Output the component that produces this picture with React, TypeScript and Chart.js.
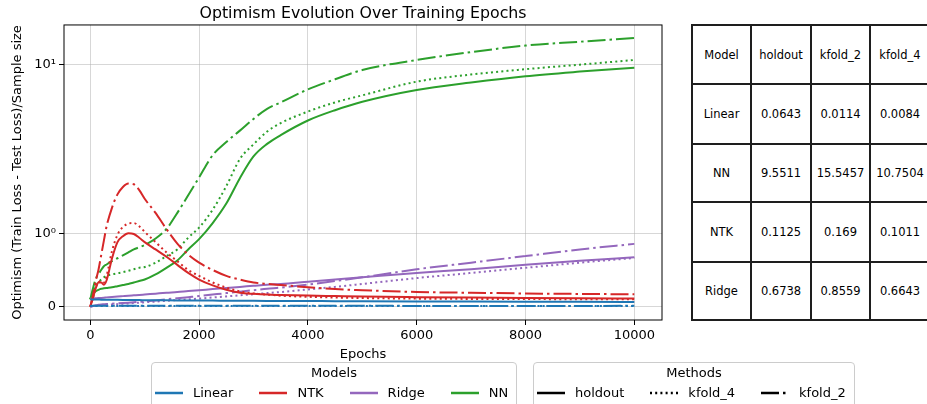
import React, { useEffect, useRef } from 'react';
import { Chart, registerables, LinearScale } from 'chart.js';

// ---------- DATA ----------
const epochs = [0, 50, 100, 150, 200, 250, 300, 400, 500, 600, 700, 800, 900, 1000, 1200, 1400, 1600, 1800, 2000, 2250, 2500, 2750, 3000, 3250, 3500, 4000, 4500, 5000, 6000, 7000, 8000, 9000, 10000];

const linearHoldout = [0.1, 0.099, 0.098, 0.097, 0.096, 0.096, 0.095, 0.094, 0.093, 0.092, 0.091, 0.09, 0.09, 0.089, 0.088, 0.087, 0.086, 0.085, 0.084, 0.083, 0.082, 0.081, 0.08, 0.079, 0.078, 0.077, 0.075, 0.074, 0.072, 0.07, 0.068, 0.066, 0.0643];
const linearKfold2 = [0.014, 0.014, 0.013, 0.013, 0.013, 0.013, 0.013, 0.013, 0.013, 0.012, 0.012, 0.012, 0.012, 0.012, 0.012, 0.012, 0.012, 0.012, 0.012, 0.012, 0.012, 0.012, 0.012, 0.012, 0.012, 0.012, 0.012, 0.012, 0.011, 0.011, 0.011, 0.011, 0.0114];
const linearKfold4 = [0.01, 0.01, 0.01, 0.01, 0.01, 0.01, 0.01, 0.01, 0.009, 0.009, 0.009, 0.009, 0.009, 0.009, 0.009, 0.009, 0.009, 0.009, 0.009, 0.009, 0.009, 0.009, 0.009, 0.009, 0.009, 0.009, 0.009, 0.009, 0.009, 0.0085, 0.0085, 0.0085, 0.0084];

const ntkHoldout = [0, 0.12, 0.25, 0.33, 0.33, 0.3, 0.36, 0.66, 0.88, 0.96, 1.0, 0.99, 0.94, 0.88, 0.78, 0.68, 0.57, 0.46, 0.37, 0.29, 0.23, 0.19, 0.175, 0.165, 0.16, 0.152, 0.145, 0.138, 0.13, 0.124, 0.119, 0.115, 0.1125];
const ntkKfold2 = [0, 0.16, 0.35, 0.5, 0.7, 0.9, 1.1, 1.42, 1.7, 1.88, 1.97, 1.95, 1.8, 1.6, 1.32, 1.06, 0.86, 0.71, 0.6, 0.5, 0.42, 0.37, 0.33, 0.31, 0.295, 0.265, 0.24, 0.225, 0.2, 0.19, 0.18, 0.174, 0.169];
const ntkKfold4 = [0, 0.12, 0.26, 0.33, 0.35, 0.33, 0.42, 0.76, 0.98, 1.09, 1.14, 1.15, 1.1, 1.02, 0.88, 0.74, 0.62, 0.5, 0.42, 0.33, 0.26, 0.21, 0.18, 0.165, 0.15, 0.135, 0.125, 0.118, 0.11, 0.106, 0.104, 0.102, 0.1011];

const ridgeHoldout = [0.11, 0.112, 0.115, 0.118, 0.12, 0.123, 0.127, 0.133, 0.138, 0.144, 0.15, 0.155, 0.16, 0.166, 0.178, 0.19, 0.2, 0.213, 0.225, 0.24, 0.255, 0.27, 0.285, 0.3, 0.31, 0.34, 0.37, 0.4, 0.46, 0.51, 0.57, 0.625, 0.6738];
const ridgeKfold2 = [0, 0.01, 0.02, 0.025, 0.03, 0.033, 0.036, 0.04, 0.045, 0.05, 0.055, 0.06, 0.065, 0.07, 0.085, 0.1, 0.115, 0.13, 0.145, 0.165, 0.185, 0.205, 0.225, 0.245, 0.26, 0.3, 0.35, 0.4, 0.51, 0.6, 0.69, 0.78, 0.8559];
const ridgeKfold4 = [0, 0.005, 0.01, 0.015, 0.02, 0.022, 0.025, 0.03, 0.035, 0.04, 0.045, 0.05, 0.055, 0.06, 0.07, 0.08, 0.09, 0.1, 0.11, 0.125, 0.14, 0.155, 0.17, 0.185, 0.2, 0.235, 0.27, 0.31, 0.39, 0.46, 0.53, 0.6, 0.6643];

const nnHoldout = [0.1, 0.17, 0.21, 0.23, 0.245, 0.25, 0.255, 0.265, 0.28, 0.295, 0.31, 0.33, 0.35, 0.37, 0.44, 0.53, 0.63, 0.78, 0.92, 1.15, 1.5, 2.12, 2.85, 3.38, 3.81, 4.65, 5.35, 6.0, 7.05, 7.8, 8.5, 9.05, 9.55];
const nnKfold2 = [0.1, 0.25, 0.38, 0.44, 0.5, 0.55, 0.575, 0.62, 0.66, 0.7, 0.74, 0.78, 0.81, 0.84, 0.93, 1.06, 1.32, 1.68, 2.14, 2.9, 3.47, 4.05, 4.75, 5.45, 5.95, 7.1, 8.15, 9.25, 10.6, 11.8, 12.9, 13.6, 14.3];
const nnKfold4 = [0.1, 0.2, 0.28, 0.33, 0.37, 0.4, 0.42, 0.44, 0.455, 0.47, 0.49, 0.51, 0.53, 0.54, 0.6, 0.69, 0.78, 0.94, 1.08, 1.38, 1.9, 2.75, 3.36, 4.0, 4.49, 5.25, 5.95, 6.55, 7.89, 8.7, 9.35, 9.95, 10.6];

const xTickValues = [0, 2000, 4000, 6000, 8000, 10000];
const yTickValues = [0, 1, 10];
const yTickLabels = ['0', '10⁰', '10¹'];

const modelNames = ['Linear', 'NTK', 'Ridge', 'NN'];
const methodNames = ['holdout', 'kfold_4', 'kfold_2'];

const tableHeader = ['Model', 'holdout', 'kfold_2', 'kfold_4'];
const tableModels = ['Linear', 'NN', 'NTK', 'Ridge'];
const tableHoldout = ['0.0643', '9.5511', '0.1125', '0.6738'];
const tableKfold2 = ['0.0114', '15.5457', '0.169', '0.8559'];
const tableKfold4 = ['0.0084', '10.7504', '0.1011', '0.6643'];

// ---------- STYLE ----------
const modelColors: Record<string, string> = { Linear: '#1f77b4', NTK: '#d62728', Ridge: '#9467bd', NN: '#2ca02c' };
const methodDash: Record<string, number[]> = { holdout: [], kfold_4: [2, 3.2], kfold_2: [18, 4, 2.5, 4] };
const FONT = "'DejaVu Sans', sans-serif";

const seriesByModel: Record<string, Record<string, number[]>> = {
  Linear: { holdout: linearHoldout, kfold_2: linearKfold2, kfold_4: linearKfold4 },
  NTK: { holdout: ntkHoldout, kfold_2: ntkKfold2, kfold_4: ntkKfold4 },
  Ridge: { holdout: ridgeHoldout, kfold_2: ridgeKfold2, kfold_4: ridgeKfold4 },
  NN: { holdout: nnHoldout, kfold_2: nnKfold2, kfold_4: nnKfold4 },
};

// ---------- symlog scale ----------
const LIN = 1 / Math.LN10;
function symT(v: number) {
  const a = Math.abs(v);
  const t = a <= 1 ? a * LIN : LIN + Math.log10(a);
  return v < 0 ? -t : t;
}
function symInv(t: number) {
  const a = Math.abs(t);
  const v = a <= LIN ? a / LIN : Math.pow(10, a - LIN);
  return t < 0 ? -v : v;
}

class SymlogScale extends (LinearScale as any) {
  static id = 'symlog';
  static defaults = (LinearScale as any).defaults;
  _tStart = 0;
  _tRange = 1;
  buildTicks() {
    return yTickValues.map((v) => ({ value: v }));
  }
  configure() {
    super.configure();
    this._tStart = symT(this.min);
    this._tRange = symT(this.max) - symT(this.min);
  }
  getPixelForValue(value: number) {
    if (value === null || value === undefined || isNaN(value)) return NaN;
    return this.getPixelForDecimal((symT(value) - this._tStart) / this._tRange);
  }
  getValueForPixel(pixel: number) {
    return symInv(this._tStart + this.getDecimalForPixel(pixel) * this._tRange);
  }
}

Chart.register(...registerables, SymlogScale as any);

const Y_MIN = symInv(-0.0787);
const Y_MAX = symInv(1.6669);
const X_MIN = -483;
const X_MAX = 10509;

const framePlugin = {
  id: 'frame',
  afterDatasetsDraw(chart: any) {
    const { ctx, chartArea: a } = chart;
    ctx.save();
    ctx.strokeStyle = '#000';
    ctx.lineWidth = 1;
    ctx.strokeRect(a.left, a.top, a.right - a.left, a.bottom - a.top);
    ctx.restore();
  },
};

function LegendLine({ color, dash }: { color: string; dash: number[] }) {
  return (
    <svg width={28} height={16} style={{ display: 'block', flex: 'none' }}>
      <line x1={0} y1={8} x2={28} y2={8} stroke={color} strokeWidth={2.5} strokeDasharray={dash.length ? dash.join(' ') : undefined} />
    </svg>
  );
}

function LegendBox({ left, width, title, items }: { left: number; width: number; title: string; items: { label: string; color: string; dash: number[] }[] }) {
  return (
    <div
      style={{
        position: 'absolute',
        left,
        top: 362,
        width,
        height: 60,
        boxSizing: 'border-box',
        border: '1px solid #cccccc',
        borderRadius: 4,
        background: 'rgba(255,255,255,0.8)',
        fontFamily: FONT,
        fontSize: 13,
        color: '#000',
      }}
    >
      <div style={{ position: 'absolute', top: 2, left: 0, right: 0, height: 16, lineHeight: '16px', textAlign: 'center' }}>{title}</div>
      <div style={{ position: 'absolute', top: 22, left: 3, height: 16, display: 'flex', alignItems: 'center', whiteSpace: 'nowrap' }}>
        {items.map((it, i) => (
          <div key={it.label} style={{ display: 'flex', alignItems: 'center', marginLeft: i === 0 ? 0 : 26 }}>
            <LegendLine color={it.color} dash={it.dash} />
            <span style={{ marginLeft: 10, lineHeight: '16px' }}>{it.label}</span>
          </div>
        ))}
      </div>
    </div>
  );
}

function ResultsTable() {
  const colEdges = [691, 750, 810, 869, 929];
  const rowEdges = [24, 83, 143, 201, 261, 319];
  const rows: string[][] = [tableHeader, ...tableModels.map((m, i) => [m, tableHoldout[i], tableKfold2[i], tableKfold4[i]])];
  const cells: React.ReactNode[] = [];
  rows.forEach((row, r) => {
    row.forEach((txt, c) => {
      cells.push(
        <div
          key={`${r}-${c}`}
          style={{
            position: 'absolute',
            left: colEdges[c],
            top: rowEdges[r],
            width: colEdges[c + 1] - colEdges[c] + 2,
            height: rowEdges[r + 1] - rowEdges[r] + 2,
            boxSizing: 'border-box',
            border: '2px solid #1e1e1e',
            display: 'flex',
            alignItems: 'center',
            justifyContent: 'center',
            fontFamily: FONT,
            fontSize: 11.5,
            color: '#000',
            whiteSpace: 'nowrap',
          }}
        >
          {txt}
        </div>
      );
    });
  });
  return <>{cells}</>;
}

export default function App() {
  const canvasRef = useRef<HTMLCanvasElement>(null);

  useEffect(() => {
    if (!canvasRef.current) return;
    const datasets: any[] = [];
    modelNames.forEach((m) => {
      ['holdout', 'kfold_2', 'kfold_4'].forEach((meth) => {
        const vals = seriesByModel[m][meth];
        datasets.push({
          label: `${m} ${meth}`,
          data: epochs.map((e, i) => ({ x: e, y: vals[i] })),
          borderColor: modelColors[m],
          backgroundColor: modelColors[m],
          borderWidth: 2,
          borderDash: methodDash[meth],
          pointRadius: 0,
          fill: false,
          cubicInterpolationMode: 'monotone',
        });
      });
    });

    const chart = new Chart(canvasRef.current, {
      type: 'line',
      data: { datasets },
      options: {
        animation: false,
        responsive: false,
        events: [],
        layout: { padding: { left: 0, right: 18, top: 0, bottom: 42 } },
        plugins: {
          legend: { display: false },
          tooltip: { enabled: false },
          title: {
            display: true,
            fullSize: false,
            text: 'Optimism Evolution Over Training Epochs',
            color: '#000',
            font: { family: FONT, size: 15.8, weight: 'normal' as any, lineHeight: 1.2 },
            padding: { top: 4, bottom: 2 },
          },
        },
        scales: {
          x: {
            type: 'linear',
            min: X_MIN,
            max: X_MAX,
            afterBuildTicks: (s: any) => {
              s.ticks = xTickValues.map((v) => ({ value: v }));
            },
            afterFit: (s: any) => {
              s.height = 42;
            },
            ticks: {
              callback: (v: any) => String(v),
              maxRotation: 0,
              autoSkip: false,
              padding: 3,
              color: '#000',
              font: { family: FONT, size: 13 },
            },
            grid: { color: 'rgba(176,176,176,0.5)', lineWidth: 1, tickColor: '#000', tickLength: 5, tickWidth: 1 },
            border: { display: false },
            title: { display: true, text: 'Epochs', color: '#000', padding: 0, font: { family: FONT, size: 13, lineHeight: 1.2 } },
          },
          y: {
            type: 'symlog' as any,
            min: Y_MIN,
            max: Y_MAX,
            afterFit: (s: any) => {
              s.width = 64;
            },
            ticks: {
              callback: (v: any) => {
                const i = yTickValues.indexOf(v);
                return i >= 0 ? yTickLabels[i] : '';
              },
              autoSkip: false,
              padding: 3,
              color: '#000',
              font: { family: FONT, size: 13 },
            },
            grid: { color: 'rgba(176,176,176,0.5)', lineWidth: 1, tickColor: '#000', tickLength: 5, tickWidth: 1 },
            border: { display: false },
            title: {
              display: true,
              text: 'Optimism (Train Loss - Test Loss)/Sample size',
              color: '#000',
              padding: { top: 10, bottom: 0 },
              font: { family: FONT, size: 13, lineHeight: 1.2 },
            },
          } as any,
        },
      },
      plugins: [framePlugin],
    });
    return () => chart.destroy();
  }, []);

  const modelItems = modelNames.map((m) => ({ label: m, color: modelColors[m], dash: [] as number[] }));
  const methodItems = methodNames.map((m) => ({ label: m, color: '#000', dash: methodDash[m] }));

  return (
    <div style={{ position: 'absolute', left: 0, top: 0, width: 927, height: 404, overflow: 'hidden', background: '#fff' }}>
      <canvas ref={canvasRef} width={680} height={404} style={{ position: 'absolute', left: 0, top: 0, width: 680, height: 404 }} />
      <ResultsTable />
      <LegendBox left={151} width={366} title="Models" items={modelItems} />
      <LegendBox left={533} width={322} title="Methods" items={methodItems} />
    </div>
  );
}
